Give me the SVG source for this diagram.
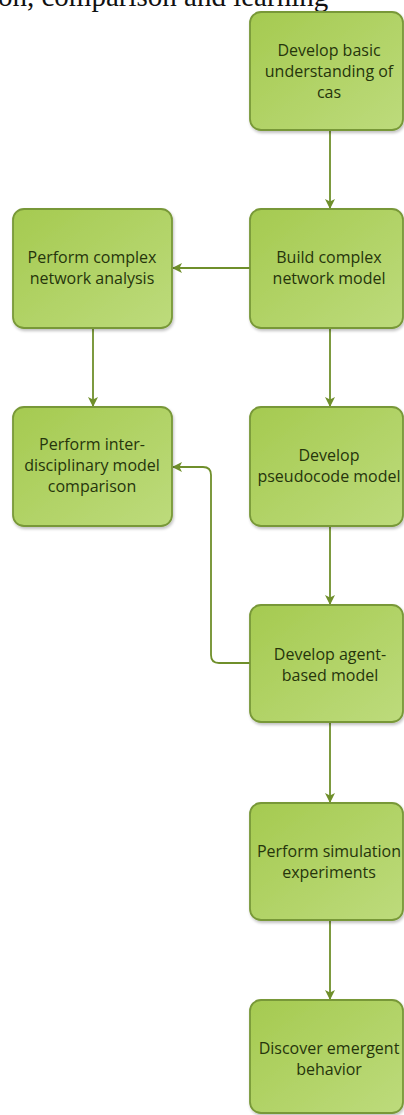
<svg xmlns="http://www.w3.org/2000/svg" width="404" height="1115" viewBox="0 0 404 1115">
<defs>
<linearGradient id="g" x1="0" y1="0" x2="1" y2="1">
<stop offset="0" stop-color="#a5ca50"/>
<stop offset="1" stop-color="#bddb7c"/>
</linearGradient>
<filter id="sh" x="-10%" y="-10%" width="120%" height="120%">
<feGaussianBlur in="SourceAlpha" stdDeviation="1.5"/>
<feOffset dx="1" dy="2" result="b"/>
<feComponentTransfer><feFuncA type="linear" slope="0.25"/></feComponentTransfer>
<feMerge><feMergeNode/><feMergeNode in="SourceGraphic"/></feMerge>
</filter>
<marker id="ah" viewBox="0 0 10 10" refX="9" refY="5" markerWidth="10" markerHeight="10" markerUnits="userSpaceOnUse" orient="auto">
<path d="M0,0 L10,5 L0,10 L2.5,5 z" fill="#6f8f2b"/>
</marker>
<style>
.box{fill:url(#g);stroke:#789838;stroke-width:1.8;filter:url(#sh)}
.t{font-family:"Open Sans","Noto Sans",sans-serif;font-size:16px;fill:#26350c;text-anchor:middle}
.c{fill:none;stroke:#6f8f2b;stroke-width:1.8;marker-end:url(#ah)}
.title{font-family:"Liberation Serif","Times New Roman",serif;font-size:29px;fill:#111}
</style>
</defs>
<rect width="404" height="1115" fill="#ffffff"/>
<text class="title" x="-2" y="6">on, comparison and learning</text>
<g id="connectors">
<path class="c" d="M330,130 V208"/>
<path class="c" d="M250,268 H173"/>
<path class="c" d="M93,328 V406"/>
<path class="c" d="M330,328 V406"/>
<path class="c" d="M330,526 V604"/>
<path class="c" d="M250,663 H219 Q211,663 211,655 V475 Q211,467 203,467 H173"/>
<path class="c" d="M330,722 V802"/>
<path class="c" d="M330,920 V999"/>
</g>
<g id="n1"><rect class="box" x="250" y="12" width="153" height="118" rx="11"/>
<text class="t" x="329" y="56">Develop basic</text><text class="t" x="329" y="77">understanding of</text><text class="t" x="329" y="98">cas</text></g>
<g id="n2"><rect class="box" x="250" y="209" width="153" height="119" rx="11"/>
<text class="t" x="329" y="263">Build complex</text><text class="t" x="329" y="284">network model</text></g>
<g id="n3"><rect class="box" x="13" y="209" width="159" height="119" rx="11"/>
<text class="t" x="92" y="263">Perform complex</text><text class="t" x="92" y="284">network analysis</text></g>
<g id="n4"><rect class="box" x="13" y="407" width="159" height="119" rx="11"/>
<text class="t" x="92" y="450">Perform inter-</text><text class="t" x="92" y="471">disciplinary model</text><text class="t" x="92" y="492">comparison</text></g>
<g id="n5"><rect class="box" x="250" y="407" width="153" height="119" rx="11"/>
<text class="t" x="329" y="461">Develop</text><text class="t" x="329" y="482">pseudocode model</text></g>
<g id="n6"><rect class="box" x="250" y="605" width="153" height="117" rx="11"/>
<text class="t" x="330" y="660">Develop agent-</text><text class="t" x="330" y="681">based model</text></g>
<g id="n7"><rect class="box" x="250" y="803" width="153" height="117" rx="11"/>
<text class="t" x="329" y="857">Perform simulation</text><text class="t" x="329" y="878">experiments</text></g>
<g id="n8"><rect class="box" x="250" y="1000" width="153" height="113" rx="11"/>
<text class="t" x="329" y="1054">Discover emergent</text><text class="t" x="329" y="1075">behavior</text></g>
</svg>
